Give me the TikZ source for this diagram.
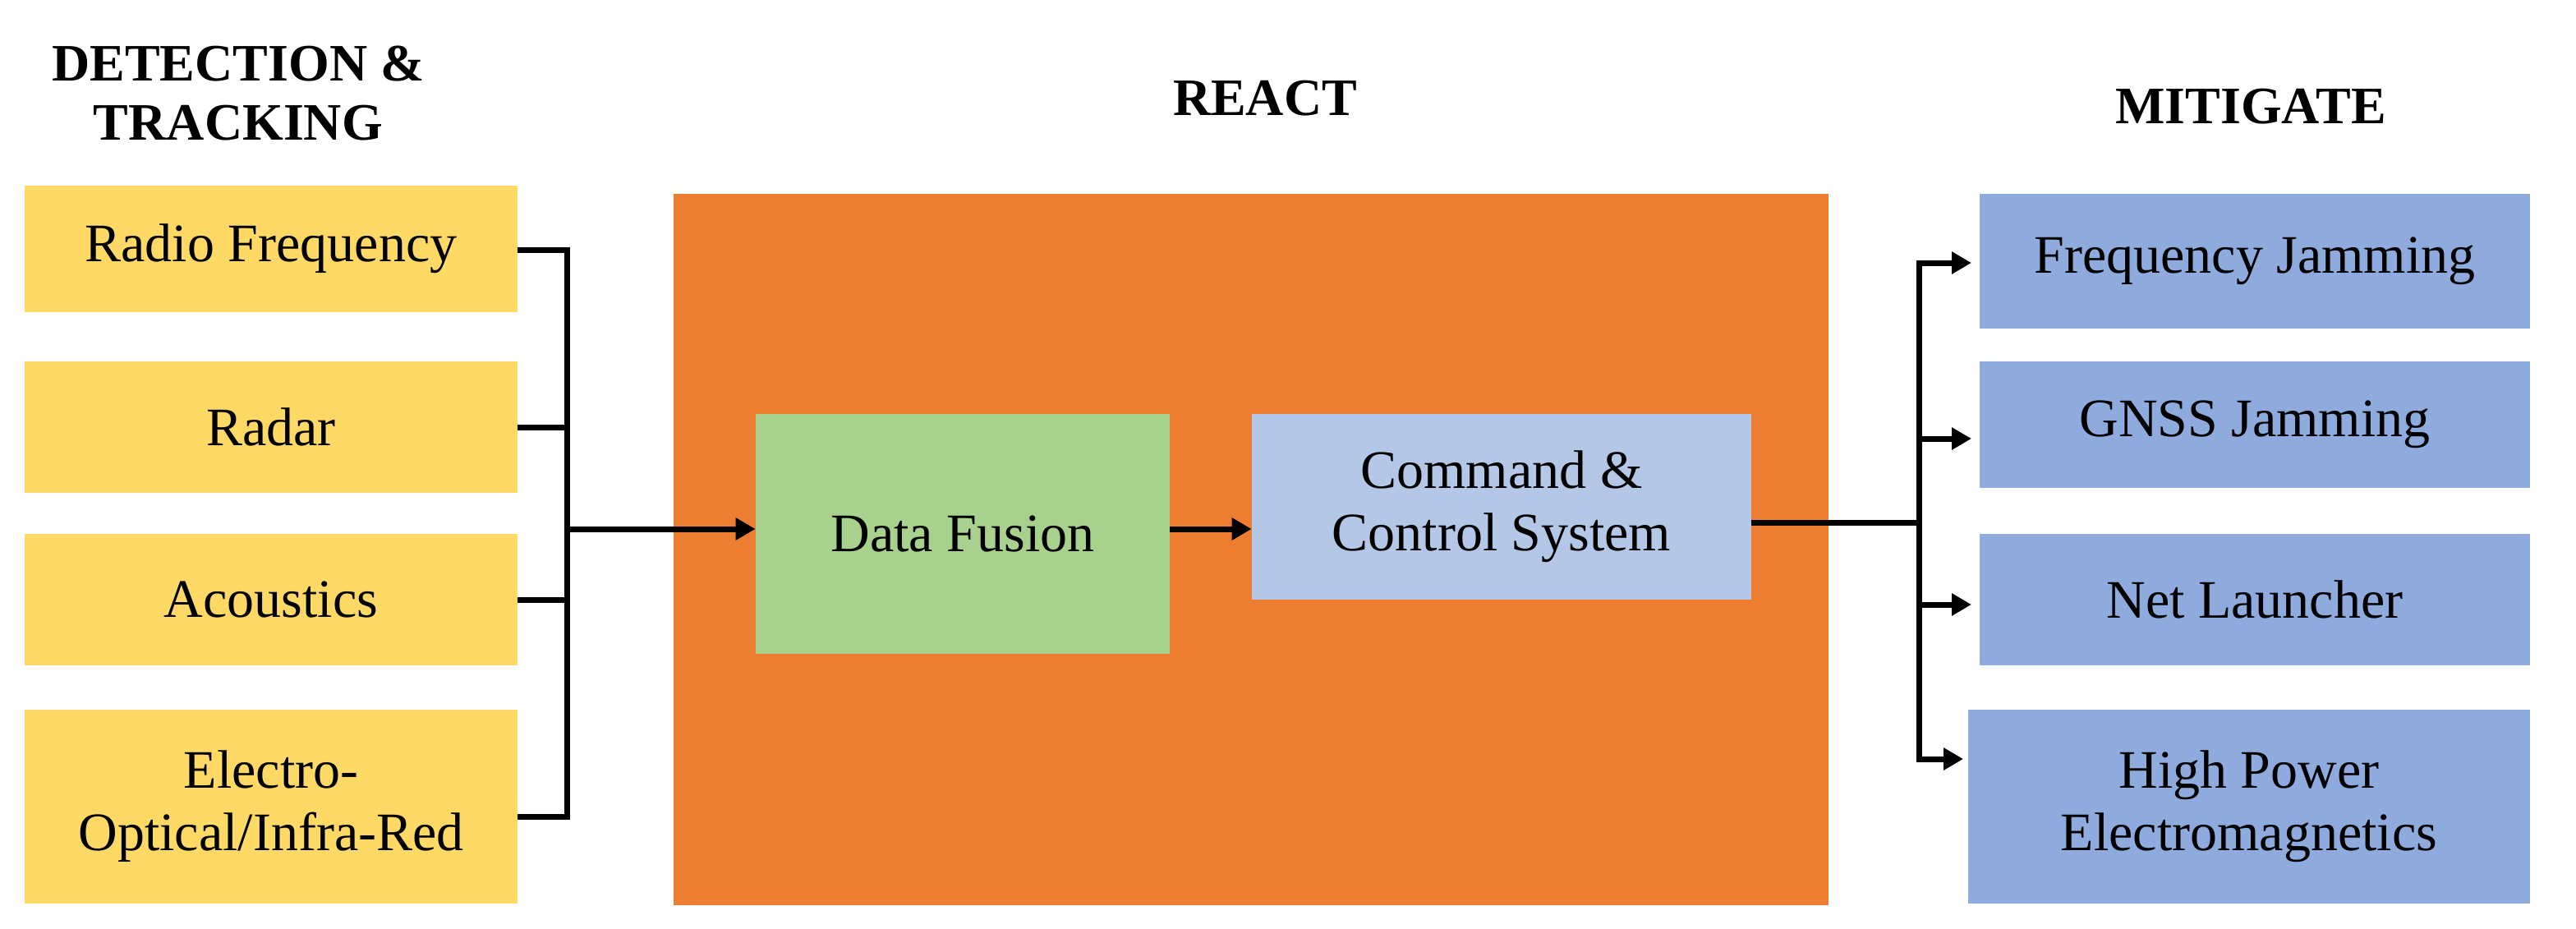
\documentclass[tikz,border=0pt]{standalone}
\usepackage{fontspec}
\setmainfont{Liberation Serif}
\usetikzlibrary{arrows.meta}
\begin{document}
\begin{tikzpicture}[x=1pt,y=-1pt,
 box/.style={draw=none,inner sep=0pt,align=center,font=\fontsize{33}{38}\selectfont},
 hdr/.style={font=\fontsize{32}{36}\selectfont\bfseries,align=center},
 ln/.style={line width=3.5pt},
 ar/.style={line width=3.5pt,-{Triangle[length=12pt,width=13pt]}}]
\useasboundingbox (0,0) rectangle (1568,565);
\definecolor{yellowbox}{HTML}{FFD966}
\definecolor{orng}{HTML}{ED7D31}
\definecolor{grn}{HTML}{A9D18E}
\definecolor{lblue}{HTML}{B4C7E7}
\definecolor{blu}{HTML}{8FAADC}
% headers
\node[hdr] (h1) at (145,57) {DETECTION \&\\TRACKING};
\node[hdr] (h2) at (770,60) {REACT};
\node[hdr] (h3) at (1370,65) {MITIGATE};
% left boxes
\node[box,fill=yellowbox,minimum width=300,minimum height=77] (rf) at (165,151.5) {Radio Frequency};
\node[box,fill=yellowbox,minimum width=300,minimum height=80] (ra) at (165,260) {Radar};
\node[box,fill=yellowbox,minimum width=300,minimum height=80] (ac) at (165,365) {Acoustics};
\node[box,fill=yellowbox,minimum width=300,minimum height=118] (eo) at (165,491) {Electro-\\Optical/Infra-Red};
% orange
\node[box,fill=orng,minimum width=703,minimum height=433] (rc) at (761.5,334.5) {};
\node[box,fill=grn,minimum width=252,minimum height=146] (df) at (586,325) {Data Fusion};
\node[box,fill=lblue,minimum width=304,minimum height=113] (cc) at (914,308.5) {Command \&\\Control System};
% right boxes
\node[box,fill=blu,minimum width=335,minimum height=82] (fj) at (1372.5,159) {Frequency Jamming};
\node[box,fill=blu,minimum width=335,minimum height=77] (gj) at (1372.5,258.5) {GNSS Jamming};
\node[box,fill=blu,minimum width=335,minimum height=80] (nl) at (1372.5,365) {Net Launcher};
\node[box,fill=blu,minimum width=342,minimum height=118] (hp) at (1369,491) {High Power\\Electromagnetics};
% left bracket
\coordinate (b1) at (345,152);
\coordinate (b4) at (345,497);
\coordinate (bm) at (345,322);
\draw[ln] (rf.east |- b1) -- (b1);
\draw[ln] (ra.east) -- (ra.east -| b1);
\draw[ln] (ac.east) -- (ac.east -| b1);
\draw[ln] (eo.east |- b4) -- (b4);
\draw[ln,line cap=rect] (b1) -- (b4);
\draw[ar] (bm) -- (bm -| df.west);
\draw[ar] (df.east |- bm) -- (cc.west |- bm);
% right bracket
\coordinate (r0) at (1168,318);
\coordinate (r1) at (1168,160);
\coordinate (r4) at (1168,462);
\draw[ln] (cc.east |- r0) -- (r0);
\draw[ln,line cap=rect] (r1) -- (r4);
\draw[ar] (r1) -- (1200,160);
\draw[ar] (1168,267) -- (1200,267);
\draw[ar] (1168,368) -- (1200,368);
\draw[ar] (r4) -- (1195,462);
\end{tikzpicture}
\end{document}
